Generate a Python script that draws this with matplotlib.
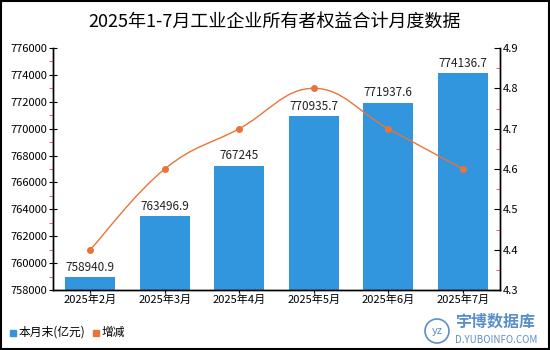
import matplotlib
matplotlib.use("Agg")
import matplotlib.pyplot as plt
from matplotlib.path import Path
from matplotlib.patches import PathPatch, Rectangle, Ellipse
from matplotlib.ticker import MultipleLocator

plt.rcParams['font.family'] = ['Noto Sans CJK SC', 'DejaVu Sans']

months = ["2025年2月", "2025年3月", "2025年4月", "2025年5月", "2025年6月", "2025年7月"]
equity = [758940.9, 763496.9, 767245, 770935.7, 771937.6, 774136.7]
growth = [4.4, 4.6, 4.7, 4.8, 4.7, 4.6]
labels = ["758940.9", "763496.9", "767245", "770935.7", "771937.6", "774136.7"]

BAR = "#3196de"
LINE = "#e8743b"

fig = plt.figure(figsize=(5.5, 3.5), dpi=100)
ax = fig.add_axes([53 / 550, 1 - 290 / 350, 447 / 550, 242 / 350])
ax2 = ax.twinx()

x = list(range(len(months)))
ax.bar(x, equity, width=0.667, color=BAR, zorder=2)
for xi, v, s in zip(x, equity, labels):
    ax.text(xi, v + 250, s, ha="center", va="bottom", fontsize=8.5, color="#222222")

ax.set_xlim(-0.5, len(months) - 0.5)
ax.set_ylim(758000, 776000)
ax.yaxis.set_major_locator(MultipleLocator(2000))
ax.yaxis.set_minor_locator(MultipleLocator(1000))
ax.set_xticks(x)
ax.set_xticklabels(months)
ax.tick_params(axis="x", direction="inout", length=5, labelsize=8, pad=1)
ax.tick_params(axis="y", which="major", direction="inout", length=6, labelsize=8, pad=1)
ax.tick_params(axis="y", which="minor", direction="out", length=3, color="#e05050")

ax2.set_ylim(4.3, 4.9)
ax2.yaxis.set_major_locator(MultipleLocator(0.1))
ax2.yaxis.set_minor_locator(MultipleLocator(0.05))
ax2.tick_params(axis="y", which="major", direction="in", length=4, labelsize=8, pad=2)
ax2.tick_params(axis="y", which="minor", direction="in", length=3, color="#e05050")

for a in (ax, ax2):
    a.spines["top"].set_visible(False)
    for s in ("left", "right", "bottom"):
        a.spines[s].set_color("black")
        a.spines[s].set_linewidth(1)

# smooth curve (Catmull-Rom as cubic Bezier through the data points)
pts = list(zip(x, growth))
verts = [pts[0]]
codes = [Path.MOVETO]
t = 0.2
for i in range(len(pts) - 1):
    p0 = pts[i - 1] if i > 0 else pts[i]
    p1, p2 = pts[i], pts[i + 1]
    p3 = pts[i + 2] if i + 2 < len(pts) else pts[i + 1]
    c1 = (p1[0] + (p2[0] - p0[0]) * t, p1[1] + (p2[1] - p0[1]) * t)
    c2 = (p2[0] - (p3[0] - p1[0]) * t, p2[1] - (p3[1] - p1[1]) * t)
    verts += [c1, c2, p2]
    codes += [Path.CURVE4] * 3
ax2.add_patch(PathPatch(Path(verts, codes), facecolor="none", edgecolor=LINE, lw=1.0, zorder=3))
ax2.plot(x, growth, linestyle="none", marker="o", markersize=4, color=LINE, zorder=4)

fig.text(0.5, 1 - 22 / 350, "2025年1-7月工业企业所有者权益合计月度数据", ha="center", va="center", fontsize=13)

# legend
fig.patches.append(Rectangle((10 / 550, 1 - 336 / 350), 6 / 550, 6 / 350, transform=fig.transFigure, color=BAR))
fig.text(19 / 550, 1 - 332 / 350, "本月末(亿元)", ha="left", va="center", fontsize=8.5)
fig.patches.append(Rectangle((93 / 550, 1 - 336 / 350), 6 / 550, 6 / 350, transform=fig.transFigure, color=LINE))
fig.text(102 / 550, 1 - 332 / 350, "增减", ha="left", va="center", fontsize=8.5)

# watermark
WM = "#5b8fc8"
fig.patches.append(Ellipse((437 / 550, 1 - 331 / 350), 24 / 550, 24 / 350, transform=fig.transFigure,
                           facecolor="none", edgecolor=WM, lw=1.2))
fig.text(437 / 550, 1 - 331 / 350, "yz", ha="center", va="center", fontsize=8, color=WM, style="italic")
fig.text(455 / 550, 1 - 322 / 350, "宇博数据库", ha="left", va="center", fontsize=11.5, color=WM, fontweight="bold")
fig.text(455 / 550, 1 - 340 / 350, "D.YUBOINFO.COM", ha="left", va="center", fontsize=7, color=WM)

# figure border
fig.patches.append(Rectangle((0.001, 0.002), 0.997, 0.995, transform=fig.transFigure,
                             facecolor="none", edgecolor="black", lw=1.5))

fig.savefig("out.png", dpi=100)
